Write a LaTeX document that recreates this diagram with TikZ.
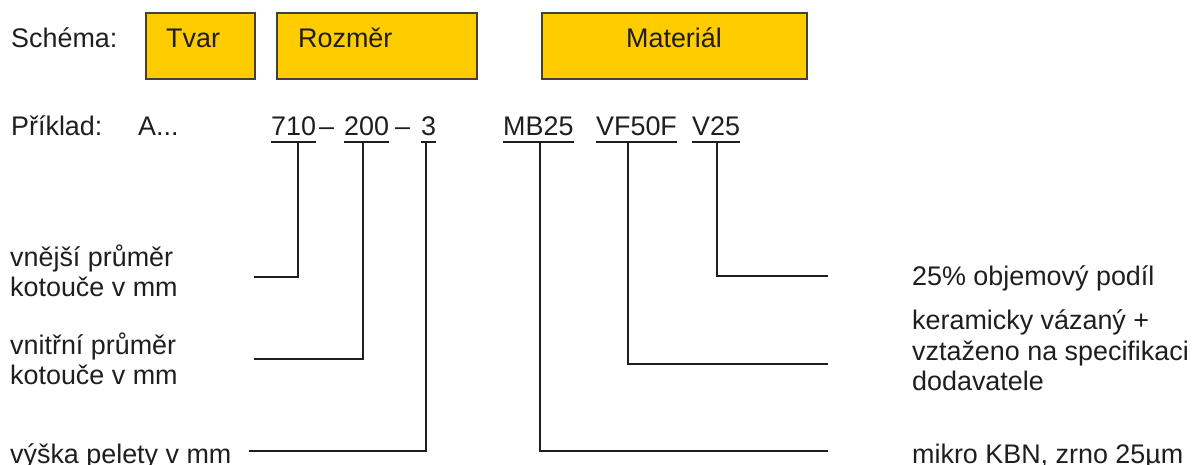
\documentclass[tikz,border=0pt]{standalone}
\usepackage{fontspec}
\setmainfont{Liberation Sans}
\definecolor{boxfill}{HTML}{FFCC00}
\definecolor{ink}{HTML}{1E1E1E}
\begin{document}
\begin{tikzpicture}[x=1pt,y=-1pt,
  txt/.style={anchor=base west,inner sep=0pt,text=ink,font=\fontsize{26.9}{30}\selectfont},
  box/.style={draw=ink!85,line width=1.5pt,fill=boxfill},
  conn/.style={draw=ink,line width=1.8pt},
  uline/.style={draw=ink,line width=1.6pt}]
\useasboundingbox (0,0) rectangle (1192,465);
% schema boxes
\path[box] (146,13) rectangle (255,79);
\path[box] (277,13) rectangle (477,79);
\path[box] (542,13) rectangle (807,79);
\node[txt] (schema) at (11,48) {Schéma:};
\node[txt] (tvar) at (166,48) {Tvar};
\node[txt] (rozmer) at (298,48) {Rozměr};
\node[txt,anchor=base] (material) at (674,48) {Materiál};
% example
\node[txt] (priklad) at (11,136) {Příklad:};
\node[txt] (a) at (138,136) {A...};
\node[txt] (c710) at (271,136) {710};
\node[txt] (d1) at (319,136) {–};
\node[txt] (c200) at (344,136) {200};
\node[txt] (d2) at (395,136) {–};
\node[txt] (c3) at (421,136) {3};
\node[txt] (cmb) at (503,136) {MB25};
\node[txt] (cvf) at (596,136) {VF50F};
\node[txt] (cv) at (692,136) {V25};
\foreach \n in {c710,c200,c3,cmb,cvf,cv}
  \draw[uline] ([yshift=-6pt]\n.base west) -- ([yshift=-6pt]\n.base east);
% left labels
\node[txt] (l1a) at (10,266) {vnější průměr};
\node[txt] (l1b) at (10,296) {kotouče v mm};
\node[txt] (l2a) at (10,354) {vnitřní průměr};
\node[txt] (l2b) at (10,384) {kotouče v mm};
\node[txt] (l3) at (10,463) {výška pelety v mm};
% right labels
\node[txt] (r1) at (912,286) {25\% objemový podíl};
\node[txt] (r2a) at (912,330) {keramicky vázaný +};
\node[txt] (r2b) at (912,360) {vztaženo na specifikaci};
\node[txt] (r2c) at (912,390) {dodavatele};
\node[txt] (r3) at (912,463) {mikro KBN, zrno 25µm};
% connector ends
\coordinate (e710) at (254,277);
\coordinate (e200) at (254,359);
\coordinate (e3) at (249,451);
\coordinate (emb) at (828,451);
\coordinate (evf) at (828,364);
\coordinate (ev) at (828,276);
\draw[conn] ([yshift=-7pt]c710.base -| 298,0) |- (e710);
\draw[conn] ([yshift=-7pt]c200.base -| 363,0) |- (e200);
\draw[conn] ([yshift=-7pt]c3.base -| 426,0) |- (e3);
\draw[conn] ([yshift=-7pt]cmb.base -| 540,0) |- (emb);
\draw[conn] ([yshift=-7pt]cvf.base -| 628,0) |- (evf);
\draw[conn] ([yshift=-7pt]cv.base -| 717,0) |- (ev);
\end{tikzpicture}
\end{document}
